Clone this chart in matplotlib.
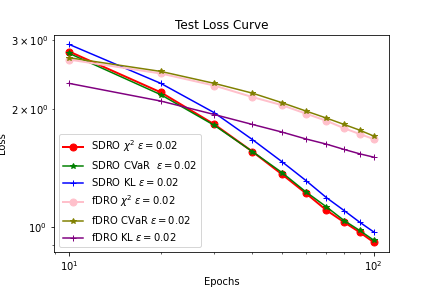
import matplotlib
matplotlib.use("Agg")
from matplotlib import pyplot as plt

epochs = [10, 20, 30, 40, 50, 60, 70, 80, 90, 100]

sdro_chi2 = [2.81, 2.21, 1.83, 1.56, 1.365, 1.22, 1.105, 1.03, 0.971, 0.916]
sdro_cvar = [2.78, 2.18, 1.82, 1.56, 1.379, 1.23, 1.127, 1.04, 0.981, 0.927]
sdro_kl = [2.93, 2.33, 1.96, 1.674, 1.47, 1.315, 1.19, 1.103, 1.03, 0.973]
fdro_chi2 = [2.68, 2.47, 2.30, 2.15, 2.05, 1.95, 1.87, 1.79, 1.73, 1.68]
fdro_cvar = [2.71, 2.50, 2.33, 2.20, 2.08, 1.98, 1.90, 1.83, 1.77, 1.71]
fdro_kl = [2.33, 2.10, 1.94, 1.83, 1.75, 1.68, 1.63, 1.58, 1.54, 1.51]

fig, ax = plt.subplots(figsize=(6, 4), dpi=72)
fig.subplots_adjust(bottom=0.125)

ax.plot(epochs, sdro_chi2, marker="o", color="red", linewidth=2, markersize=7, label=r"SDRO $\chi^2$ $\varepsilon=0.02$")
ax.plot(epochs, sdro_cvar, marker="*", color="green", label=r"SDRO CVaR  $\varepsilon=0.02$")
ax.plot(epochs, sdro_kl, marker="+", color="blue", label=r"SDRO KL $\varepsilon=0.02$")
ax.plot(epochs, fdro_chi2, marker="o", color="pink", linewidth=2, markersize=7, label=r"fDRO $\chi^2$ $\varepsilon=0.02$")
ax.plot(epochs, fdro_cvar, marker="*", color="olive", label=r"fDRO CVaR $\varepsilon=0.02$")
ax.plot(epochs, fdro_kl, marker="+", color="purple", label=r"fDRO KL $\varepsilon=0.02$")

ax.set_xscale("log")
ax.set_yscale("log")
ax.set_title("Test Loss Curve")
ax.set_xlabel("Epochs")
ax.set_ylabel("Loss")
ax.legend()

fig.savefig("out.png")
